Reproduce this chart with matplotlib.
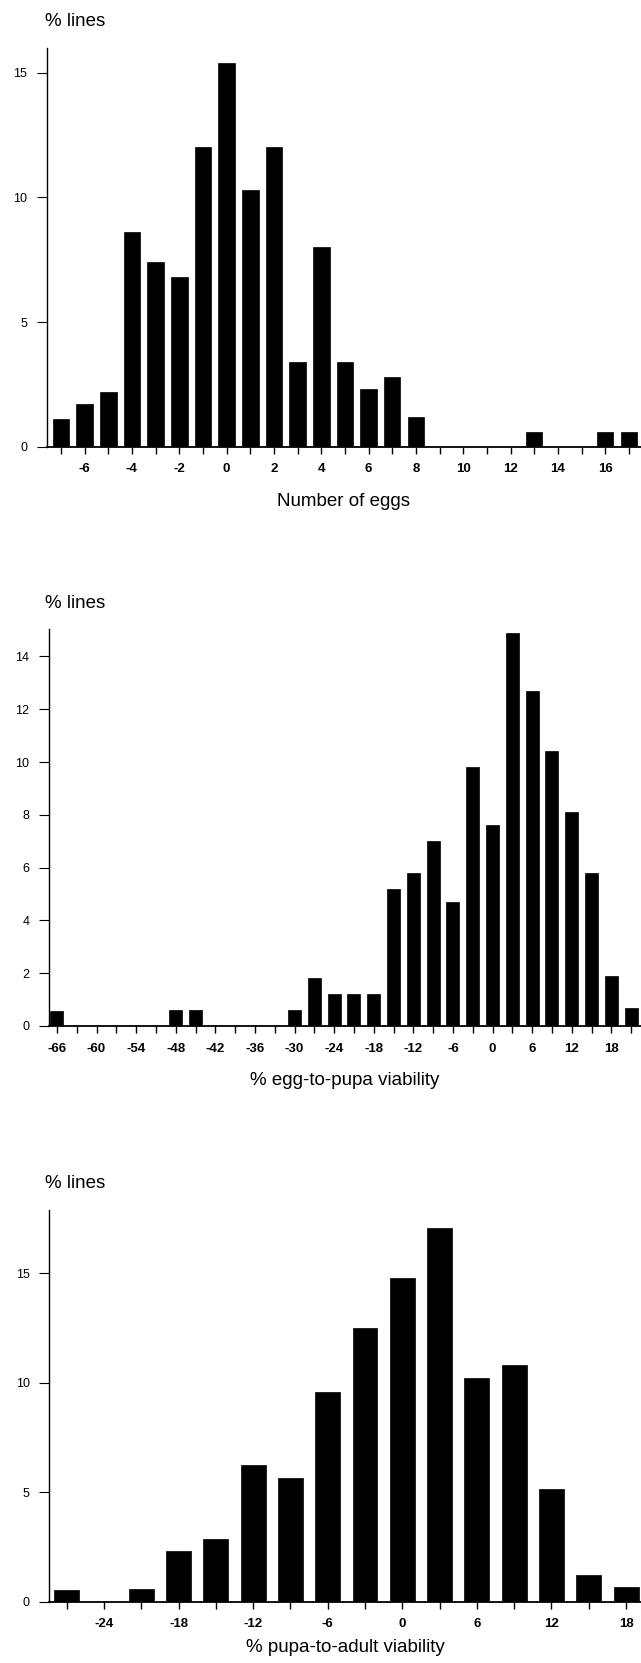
"""
three histograms of line means: fecundity, egg-to-pupa and pupa-to-adult viability.
"""
import matplotlib
matplotlib.use("Agg")
import matplotlib.pyplot as plt

plt.rcParams['font.family'] = ['Liberation Sans', 'DejaVu Sans']

# number of eggs, one bin per egg
eggs_bins = list(range(-7, 18))
eggs_pct  = [1.1, 1.7, 2.2, 8.6, 7.4, 6.8, 12.0, 15.4, 10.3, 12.0, 3.4, 8.0, 3.4,
             2.3, 2.8, 1.2, 0, 0, 0, 0, 0.6, 0, 0, 0.6, 0.6]

# egg-to-pupa viability, 3% bins
e2p_bins = list(range(-66, 22, 3))
e2p_pct  = [0.55, 0, 0, 0, 0, 0, 0.6, 0.6, 0, 0, 0, 0, 0.6, 1.8, 1.2, 1.2, 1.2,
            5.2, 5.8, 7.0, 4.7, 9.8, 7.6, 14.9, 12.7, 10.4, 8.1, 5.8, 1.9, 0.7]

# pupa-to-adult viability, 3% bins
p2a_bins = list(range(-27, 19, 3))
p2a_pct  = [0.55, 0, 0.6, 2.3, 2.85, 6.25, 5.65, 9.6, 12.5, 14.8, 17.1, 10.2,
            10.8, 5.15, 1.2, 0.65]

W, H = 641, 1663


def panel(fig, rect, bins, pct, width, xlim, ylim, yticks, xticks, xlabels, xlabel, title_y, labelpad):
    ax = fig.add_axes(rect)
    ax.bar(bins, pct, width=width, color='black', edgecolor='black', linewidth=0.5)
    ax.set_xlim(*xlim)
    ax.set_ylim(*ylim)
    for s in ['top', 'right']:
        ax.spines[s].set_visible(False)
    ax.spines['left'].set_linewidth(1.0)
    ax.spines['bottom'].set_linewidth(1.3)
    ax.set_yticks(yticks)
    ax.set_xticks(xticks)
    ax.set_xticklabels(xlabels, fontweight='bold')
    ax.tick_params(axis='y', length=7, width=0.8, pad=7, labelsize=9)
    ax.tick_params(axis='x', length=5, width=1.0, pad=7, labelsize=9.5)
    ax.set_xlabel(xlabel, fontsize=13.5, labelpad=labelpad)
    fig.text(45 / W, 1 - title_y / H, '% lines', fontsize=13.5, ha='left', va='center')
    return ax


fig = plt.figure(figsize=(W / 100, H / 100), dpi=100)

ticks1 = list(range(-7, 18))
panel(fig, [46.7 / W, 1 - 446.7 / H, 594 / W, 399 / H],
      eggs_bins, eggs_pct, 0.70, (-7.6, 17.5), (0, 16.0), [0, 5, 10, 15],
      ticks1, [str(t) if t % 2 == 0 else '' for t in ticks1],
      'Number of eggs', 22, 13)

ticks2 = list(range(-66, 22, 3))
panel(fig, [49 / W, 1 - 1026 / H, 592 / W, 397 / H],
      e2p_bins, e2p_pct, 1.95, (-67.2, 22.5), (0, 15.04), list(range(0, 15, 2)),
      ticks2, [str(t) if t % 6 == 0 else '' for t in ticks2],
      '% egg-to-pupa viability', 603, 12.5)

ticks3 = list(range(-27, 19, 3))
panel(fig, [49.3 / W, 1 - 1601.7 / H, 591.7 / W, 391.7 / H],
      p2a_bins, p2a_pct, 2.0, (-28.4, 19.2), (0, 17.9), [0, 5, 10, 15],
      ticks3, [str(t) if t % 6 == 0 else '' for t in ticks3],
      '% pupa-to-adult viability', 1183, 6.5)

fig.savefig('out.png', dpi=100)
